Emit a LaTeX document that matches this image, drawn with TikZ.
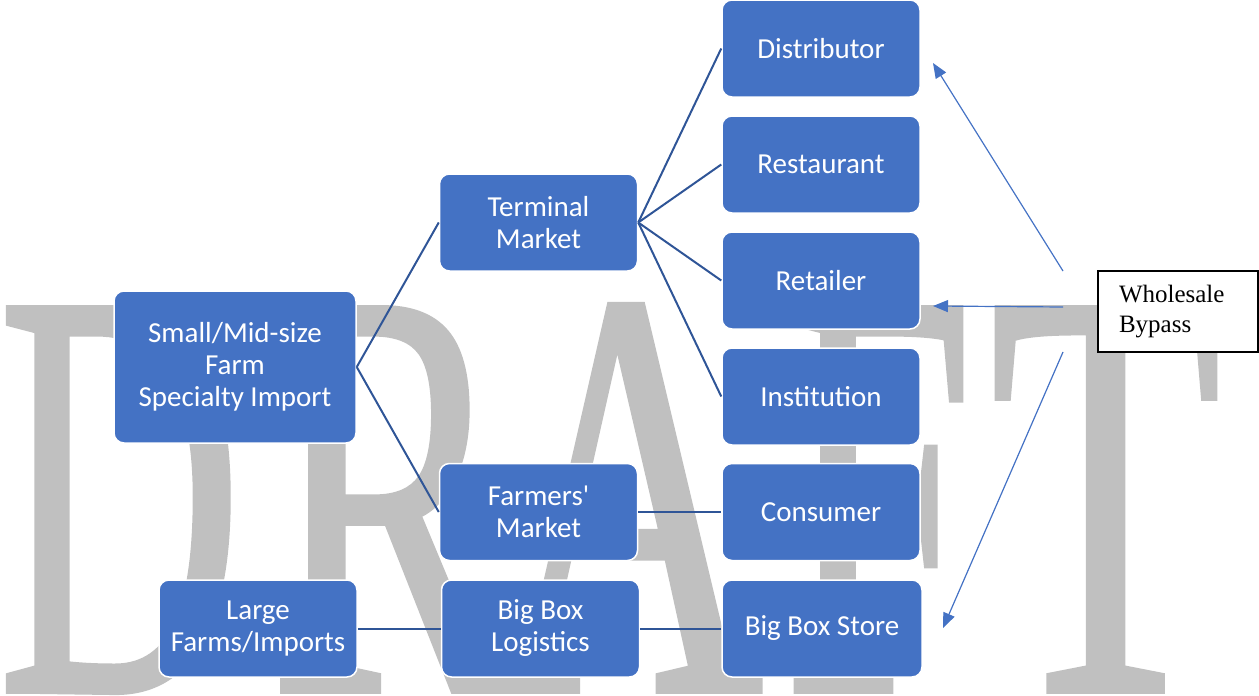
\documentclass[tikz,border=0pt]{standalone}
\usepackage{fontspec}
\usepackage{graphicx}
\setmainfont{Liberation Serif}
\setsansfont{Carlito}
\newfontfamily\wmfont[FakeBold=1]{Liberation Serif}
\usetikzlibrary{arrows.meta}
\definecolor{boxblue}{HTML}{4472C4}
\definecolor{lineblue}{HTML}{2F5597}
\definecolor{wmgray}{HTML}{C0C0C0}
\tikzset{
  box/.style={rectangle, rounded corners=10pt, fill=boxblue, draw=white, line width=1.5pt,
    text=white, align=center, font=\sffamily\fontsize{29}{32}\selectfont, inner sep=2pt,
    minimum width=198pt, minimum height=97pt},
  conn/.style={draw=lineblue, line width=2pt},
  bypassarrow/.style={draw=boxblue, line width=1.2pt, -{Triangle[length=15pt,width=12pt]}},
  wm/.style={anchor=base west, inner sep=0pt, text=wmgray},
  notebox/.style={rectangle, draw=black, line width=1.5pt, fill=white, align=left,
    font=\fontsize{25}{30}\selectfont, text width=118pt, inner xsep=21pt,
    minimum width=160pt, minimum height=81pt}
}
\begin{document}
\begin{tikzpicture}[x=1pt, y=-1pt]
\useasboundingbox (0,0) rectangle (1259,696);
% watermark
\node[wm] (wD) at (-2.4,691) {\scalebox{3.39}[5.85]{\wmfont\fontsize{100}{100}\selectfont D}};
\node[wm] (wR) at (269,691) {\scalebox{3.6}[5.85]{\wmfont\fontsize{100}{100}\selectfont R}};
\node[wm] (wA) at (494,691) {\scalebox{3.73}[5.85]{\wmfont\fontsize{100}{100}\selectfont A}};
\node[wm] (wF) at (783,691) {\scalebox{3.43}[5.85]{\wmfont\fontsize{100}{100}\selectfont F}};
\node[wm] (wT) at (989.5,691) {\scalebox{3.8}[5.85]{\wmfont\fontsize{100}{100}\selectfont T}};
% boxes
\node[box, minimum width=242pt, minimum height=152pt] (small) at (235,367) {Small/Mid-size\\Farm\\Specialty Import};
\node[box] (large) at (258,628.5) {Large\\Farms/Imports};
\node[box] (term) at (538.5,222.5) {Terminal\\Market};
\node[box] (farm) at (538.5,512) {Farmers\textquotesingle\\Market};
\node[box] (logi) at (540.5,628.5) {Big Box\\Logistics};
\node[box] (dist) at (821,48.5) {Distributor};
\node[box] (rest) at (821,164.5) {Restaurant};
\node[box] (reta) at (821,280.5) {Retailer};
\node[box] (inst) at (821,396.5) {Institution};
\node[box] (cons) at (821,512) {Consumer};
\node[box, minimum width=200pt] (bbs) at (822,628.5) {Big Box Store};
% connector lines
\draw[conn] (small.east) -- (term.west);
\draw[conn] (small.east) -- (farm.west);
\draw[conn] (term.east) -- (dist.west);
\draw[conn] (term.east) -- (rest.west);
\draw[conn] (term.east) -- (reta.west);
\draw[conn] (term.east) -- (inst.west);
\draw[conn] (farm.east) -- (cons.west);
\draw[conn] (large.east) -- (logi.west);
\draw[conn] (logi.east) -- (bbs.west);
% wholesale bypass
\node[notebox] (bypass) at (1178,311.5) {Wholesale\\Bypass};
\coordinate (s1) at (1063,271);
\coordinate (s2) at (1063,307);
\coordinate (s3) at (1063,352);
\coordinate (t1) at (933,63);
\coordinate (t2) at (933,306);
\coordinate (t3) at (943,628);
\draw[bypassarrow] (s1) -- (t1);
\draw[bypassarrow] (s2) -- (t2);
\draw[bypassarrow] (s3) -- (t3);
\end{tikzpicture}
\end{document}
